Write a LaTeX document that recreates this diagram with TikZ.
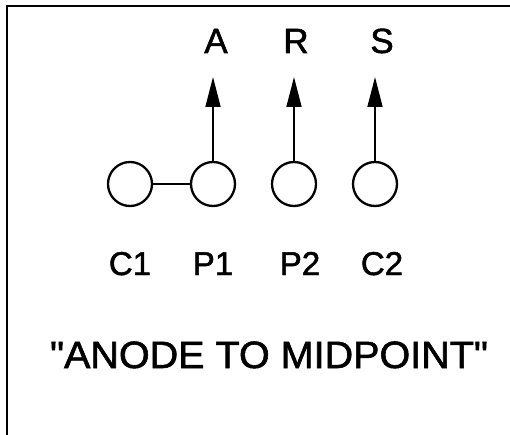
\documentclass[tikz,border=0pt]{standalone}
\usepackage{fontspec}
\setmainfont[FakeBold=1.5]{Liberation Sans}
\usetikzlibrary{arrows.meta}
\tikzset{
  pin/.style={circle, draw, line width=2.3pt, minimum size=44pt, inner sep=0pt},
  lbl/.style={anchor=base, inner sep=0pt, font=\fontsize{35}{35}\selectfont},
  sub/.style={lbl, font=\fontsize{33}{33}\selectfont},
  sig/.style={line width=1.7pt, -{Triangle[length=30pt,width=15pt]}},
}
\begin{document}
\begin{tikzpicture}[x=1pt,y=-1pt]
\useasboundingbox (0,0) rectangle (510,435);
\draw[line width=2pt] (7,435) -- (7,6) -- (510,6);
\node[pin] (c1) at (130,184) {};
\node[pin] (p1) at (213,184) {};
\node[pin] (p2) at (294,184) {};
\node[pin] (c2) at (375,184) {};
\coordinate (ta) at (213,77);
\coordinate (tr) at (294,77);
\coordinate (ts) at (375,77);
\draw[line width=1.7pt] (c1.east) -- (p1.west);
\draw[sig] (p1.north) -- (ta);
\draw[sig] (p2.north) -- (tr);
\draw[sig] (c2.north) -- (ts);
\node[lbl] (la) at (216,53) {A};
\node[lbl] (lr) at (296,53) {R};
\node[lbl] (ls) at (382,53) {S};
\node[sub] (lc1) at (130,275) {C1};
\node[sub] (lp1) at (213,275) {P1};
\node[sub] (lp2) at (300,275) {P2};
\node[sub] (lc2) at (382,275) {C2};
\node[lbl,font=\fontsize{38}{38}\selectfont,xscale=1.04] (title) at (269,368) {\textquotedbl ANODE TO MIDPOINT\textquotedbl};
\end{tikzpicture}
\end{document}
